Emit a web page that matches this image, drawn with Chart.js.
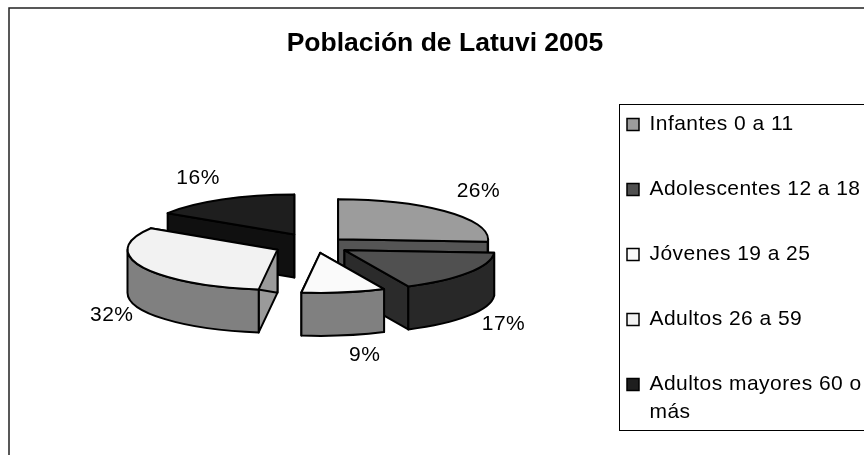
<!DOCTYPE html>
<html>
<head>
<meta charset="utf-8">
<script src="https://cdn.jsdelivr.net/npm/chart.js@4"></script>
<style>
html, body { margin: 0; padding: 0; background: #fff; overflow: hidden; }
canvas { display: block; }
</style>
</head>
<body>
<canvas id="GraficoPoblacion" width="878" height="490"></canvas>
<script>
var categorias = ['Infantes 0 a 11', 'Adolescentes 12 a 18', 'Jóvenes 19 a 25', 'Adultos 26 a 59', ['Adultos mayores 60 o', 'más']];
var valores = [26, 17, 9, 32, 16];
var coresTopo = ['#9c9c9c', '#505050', '#fafafa', '#f2f2f2', '#1e1e1e'];
var coresLado = ['#555555', '#282828', '#808080', '#808080', '#101010'];
var coresCorte = ['#555555', '#2b2b2b', '#808080', '#9a9a9a', '#101010'];
var explosao = [31, 35, 30, 42, 44];
var ajusteRotulos = [[31, -21], [35, 9], [21, 20], [-30, 5], [-24, -21]];

var achatamento = 0.267;
var altura = 43;

// Pie normal do Chart.js, mas achatado e com lateral desenhada aqui
var pizza3d = {
    id: 'pizza3d',
    afterLayout: function (chart) {
        // a legenda do Chart.js usa o mesmo padding na vertical e na horizontal, entao ajusta aqui
        var legenda = chart.legend;
        legenda.left = 583;
        legenda.right = chart.width;
        legenda.top += 67;
        legenda.bottom += 67;
        if (!legenda.drawOriginal) {
            legenda.drawOriginal = legenda.draw;
            legenda.draw = function () {
                chart.ctx.letterSpacing = '0.45px';
                legenda.drawOriginal();
                chart.ctx.letterSpacing = '0px';
            };
        }
    },
    beforeDatasetDraw: function () {
        return false;
    },
    afterDatasetsDraw: function (chart) {
        var ctx = chart.ctx;
        var arcos = chart.getDatasetMeta(0).data;
        var ordem = arcos.map(function (a, i) { return i; });
        ordem.sort(function (i, j) {
            return Math.sin(meio(arcos[i])) - Math.sin(meio(arcos[j]));
        });

        ctx.save();
        ctx.lineWidth = 2;
        ctx.strokeStyle = '#000';
        ctx.lineJoin = 'round';
        ordem.forEach(function (i) {
            desenharFatia(ctx, arcos[i], i);
        });
        ctx.fillStyle = '#000';
        ctx.font = '21px "Liberation Sans"';
        ctx.letterSpacing = '0.5px';
        ctx.textAlign = 'center';
        ctx.textBaseline = 'middle';
        arcos.forEach(function (arco, i) {
            var c = centro(arco);
            var m = meio(arco);
            var x = c.x + Math.cos(m) * arco.outerRadius + ajusteRotulos[i][0];
            var y = c.y + Math.sin(m) * arco.outerRadius * achatamento + ajusteRotulos[i][1];
            if (Math.sin(m) > 0) {
                y += altura;
            }
            ctx.fillText(valores[i] + '%', x, y);
        });
        ctx.restore();
    },
    afterDraw: function (chart) {
        var ctx = chart.ctx;
        ctx.save();
        ctx.strokeStyle = '#000';
        ctx.lineWidth = 1;
        ctx.strokeRect(619.5, 104.5, chart.width, 326);
        ctx.lineWidth = 1.5;
        ctx.strokeStyle = '#222';
        ctx.strokeRect(9, 8, chart.width + 20, chart.height);
        ctx.restore();
    }
};

function meio(arco) {
    return (arco.startAngle + arco.endAngle) / 2;
}

function centro(arco) {
    var m = meio(arco);
    var d = arco.options.offset;
    return { x: arco.x + Math.cos(m) * d, y: arco.y + Math.sin(m) * d * achatamento };
}

function ponto(c, r, ang) {
    return { x: c.x + Math.cos(ang) * r, y: c.y + Math.sin(ang) * r * achatamento };
}

function desenharFatia(ctx, arco, i) {
    var c = centro(arco);
    var r = arco.outerRadius;
    var a0 = arco.startAngle;
    var a1 = arco.endAngle;

    // faces do corte
    [a0, a1].forEach(function (ang) {
        var p = ponto(c, r, ang);
        ctx.beginPath();
        ctx.moveTo(c.x, c.y);
        ctx.lineTo(p.x, p.y);
        ctx.lineTo(p.x, p.y + altura);
        ctx.lineTo(c.x, c.y + altura);
        ctx.closePath();
        ctx.fillStyle = coresCorte[i];
        ctx.fill();
        ctx.stroke();
    });

    // borda externa, so a parte da frente
    [0, 2 * Math.PI].forEach(function (volta) {
        var de = Math.max(a0, volta);
        var ate = Math.min(a1, volta + Math.PI);
        if (ate > de) {
            ctx.beginPath();
            ctx.ellipse(c.x, c.y, r, r * achatamento, 0, de, ate, false);
            var fim = ponto(c, r, ate);
            ctx.lineTo(fim.x, fim.y + altura);
            ctx.ellipse(c.x, c.y + altura, r, r * achatamento, 0, ate, de, true);
            ctx.closePath();
            ctx.fillStyle = coresLado[i];
            ctx.fill();
            ctx.stroke();
        }
    });

    // topo
    ctx.beginPath();
    ctx.moveTo(c.x, c.y);
    ctx.ellipse(c.x, c.y, r, r * achatamento, 0, a0, a1, false);
    ctx.closePath();
    ctx.fillStyle = coresTopo[i];
    ctx.fill();
    ctx.stroke();
}

var ctx = document.getElementById('GraficoPoblacion').getContext('2d');

var grafico = new Chart(ctx, {
    type: 'pie',
    data: {
        labels: categorias,
        datasets: [{
            data: valores,
            backgroundColor: coresTopo,
            borderColor: '#000',
            borderWidth: 0,
            offset: explosao
        }]
    },
    options: {
        responsive: false,
        animation: false,
        radius: 150,
        layout: {
            padding: { left: 12, top: 0, right: 0, bottom: 80 }
        },
        plugins: {
            title: {
                display: true,
                text: 'Población de Latuvi 2005',
                color: '#000',
                font: { family: '"Liberation Sans"', size: 26.5, weight: 'bold' },
                padding: { top: 28, bottom: 20 }
            },
            legend: {
                position: 'right',
                align: 'center',
                maxWidth: 259,
                labels: {
                    color: '#000',
                    font: { family: '"Liberation Sans"', size: 21, lineHeight: 1.33 },
                    boxWidth: 12,
                    boxHeight: 12,
                    padding: 44,
                    generateLabels: function (chart) {
                        return categorias.map(function (nome, i) {
                            return {
                                text: nome,
                                fillStyle: coresTopo[i],
                                strokeStyle: '#000',
                                lineWidth: 1.5,
                                index: i
                            };
                        });
                    }
                }
            },
            tooltip: { enabled: false }
        }
    },
    plugins: [pizza3d]
});
</script>
</body>
</html>
